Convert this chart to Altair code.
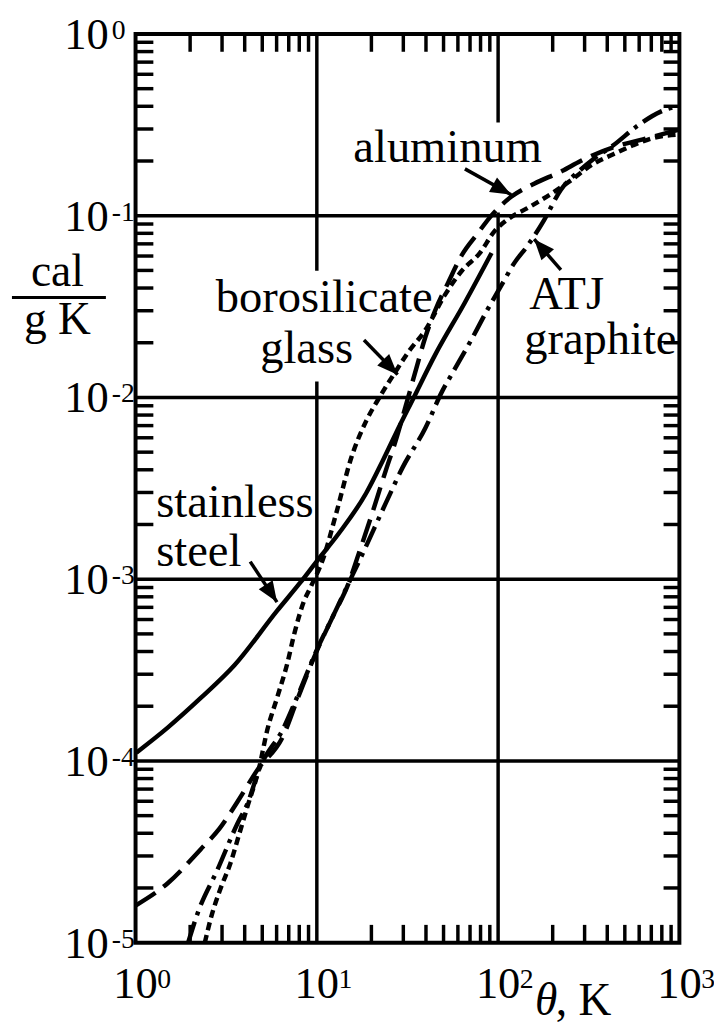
import altair as alt
import pandas as pd

# ---------------- data ----------------
ss_T = [1.01, 1.51, 2.29, 3.51, 6.03, 8.05, 9.96, 13.3, 18.7, 23.1, 27.2, 34.1, 45.0, 65.6, 92.0]
ss_c = [1.11e-4, 1.53e-4, 2.22e-4, 3.36e-4, 6.69e-4, 9.5e-4, 1.25e-3, 1.80e-3, 2.97e-3, 4.49e-3,
        6.3e-3, 9.9e-3, 0.0172, 0.0333, 0.0623]

al_T = [1.0, 1.51, 2.29, 2.91, 3.65, 4.69, 6.58, 7.75, 9.96, 12.3, 14.9, 17.1, 19.9, 24.0, 27.2,
        30.9, 35.0, 39.7, 45.0, 53.0, 63.1, 77.2, 92.0, 118, 158, 225, 285, 432, 629, 1000]
al_c = [1.60e-5, 2.13e-5, 3.27e-5, 4.25e-5, 5.96e-5, 8.9e-5, 1.40e-4, 2.14e-4, 4.0e-4, 6.28e-4,
        9.4e-4, 1.40e-3, 2.2e-3, 3.96e-3, 5.77e-3, 8.95e-3, 0.0139, 0.0215, 0.0302, 0.0428,
        0.0608, 0.080, 0.1004, 0.127, 0.150, 0.176, 0.200, 0.238, 0.263, 0.298]

bg_T = [2.41, 2.60, 2.94, 3.34, 3.74, 4.14, 4.81, 5.32, 6.03, 6.83, 7.56, 8.46, 9.24, 10.9, 12.8,
        15.5, 18.7, 22.0, 27.2, 32.0, 39.7, 51.0, 63.1, 79.2, 95.6, 115, 145, 196, 251, 336,
        432, 555, 713, 1000]
bg_c = [1.0e-5, 1.36e-5, 1.98e-5, 2.74e-5, 3.99e-5, 5.6e-5, 9.2e-5, 1.47e-4, 2.22e-4, 3.36e-4,
        5.14e-4, 7.49e-4, 9.04e-4, 1.32e-3, 2.31e-3, 4.67e-3, 7.41e-3, 9.9e-3, 0.0139, 0.0178,
        0.0235, 0.0368, 0.0498, 0.0623, 0.0822, 0.0967, 0.110, 0.132, 0.156, 0.193, 0.218,
        0.244, 0.267, 0.280]

atj_T = [1.95, 2.21, 2.84, 3.65, 4.14, 4.81, 6.58, 7.75, 9.96, 12.3, 14.9, 18.0, 24.0, 29.7,
         39.7, 49.1, 57.8, 71.6, 87.5, 104, 123, 145, 179, 222, 285, 336, 432, 591, 789, 1000]
atj_c = [1.0e-5, 1.47e-5, 2.54e-5, 4.53e-5, 5.81e-5, 9.0e-5, 1.53e-4, 2.22e-4, 4.05e-4, 6.28e-4,
         9.4e-4, 1.40e-3, 2.62e-3, 4.11e-3, 6.79e-3, 0.0108, 0.0144, 0.0210, 0.0305, 0.0412,
         0.0550, 0.0681, 0.0943, 0.139, 0.179, 0.205, 0.244, 0.314, 0.374, 0.403]

# axes
x_decades = [1, 10, 100, 1000]
x_exps = ["0", "1", "2", "3"]
y_decades = [1, 0.1, 0.01, 0.001, 0.0001, 0.00001]
y_exps = ["0", "-1", "-2", "-3", "-4", "-5"]
x_grid = [10, 100]
y_grid = [0.1, 0.01, 0.001, 0.0001]
mantissas = [2, 3, 4, 5, 6, 7, 8, 9]
x_minor = [m * d for d in [1, 10, 100] for m in mantissas]
y_minor = [m * d for d in [1e-5, 1e-4, 1e-3, 1e-2, 1e-1] for m in mantissas]

# annotations
lab_text = ["aluminum", "borosilicate", "glass", "ATJ", "graphite", "stainless", "steel"]
lab_x = [15.9, 2.77, 4.87, 148.4, 139.3, 1.30, 1.30]
lab_y = [0.197, 0.0294, 0.0155, 0.0305, 0.0174, 2.2e-3, 1.175e-3]

box_x1 = [2.66, 14.5]
box_x2 = [42.3, 168]
box_y1 = [0.0498, 0.326]
box_y2 = [0.01224, 0.104]

arr_id = ["al", "al", "bg", "bg", "atj", "atj", "ss", "ss"]
arr_x = [65.6, 118, 18.2, 27.9, 222, 158, 4.29, 6.03]
arr_y = [0.181, 0.1305, 0.0207, 0.01335, 0.0504, 0.0743, 1.25e-3, 7.48e-4]
head_x = [118, 27.9, 158, 6.03]
head_y = [0.1305, 0.01335, 0.0743, 7.48e-4]
head_ang = [29, 46, 229, 57]

# ---------------- chart ----------------
W, H = 550, 919
FONT = "Liberation Serif, Times New Roman, Times, DejaVu Serif, serif"
LW = 3.5
xs = alt.Scale(type="log", domain=[1, 1000])
ys = alt.Scale(type="log", domain=[1e-5, 1])


def X(f="x"):
    return alt.X(f"{f}:Q", scale=xs, axis=None)


def Y(f="y"):
    return alt.Y(f"{f}:Q", scale=ys, axis=None)


vgrid = alt.Chart(pd.DataFrame({"x": x_grid})).mark_rule(color="black", strokeWidth=LW).encode(x=X())
hgrid = alt.Chart(pd.DataFrame({"y": y_grid})).mark_rule(color="black", strokeWidth=LW).encode(y=Y())

xm = pd.DataFrame({"x": x_minor})
ym = pd.DataFrame({"y": y_minor})
tick_b = alt.Chart(xm).mark_rule(color="black", strokeWidth=LW).encode(x=X(), y=alt.value(H - 18), y2=alt.value(H))
tick_t = alt.Chart(xm).mark_rule(color="black", strokeWidth=LW).encode(x=X(), y=alt.value(0), y2=alt.value(18))
tick_l = alt.Chart(ym).mark_rule(color="black", strokeWidth=LW).encode(y=Y(), x=alt.value(0), x2=alt.value(18))
tick_r = alt.Chart(ym).mark_rule(color="black", strokeWidth=LW).encode(y=Y(), x=alt.value(W - 16), x2=alt.value(W))

boxes = alt.Chart(pd.DataFrame({"x1": box_x1, "x2": box_x2, "y1": box_y1, "y2": box_y2})).mark_rect(
    color="white").encode(x=X("x1"), x2="x2:Q", y=Y("y1"), y2="y2:Q")


def curve(T, c, dash):
    df = pd.DataFrame({"x": T, "y": c, "o": list(range(len(T)))})
    kw = dict(color="black", strokeWidth=4.5, interpolate="monotone")
    if dash:
        kw["strokeDash"] = dash
    return alt.Chart(df).mark_line(**kw).encode(x=X(), y=Y(), order="o:Q")


c_ss = curve(ss_T, ss_c, None)
c_al = curve(al_T, al_c, [24, 10])
c_bg = curve(bg_T, bg_c, [8, 5])
c_atj = curve(atj_T, atj_c, [22, 7, 4, 7])

arr_df = pd.DataFrame({"id": arr_id, "x": arr_x, "y": arr_y, "o": [0, 1] * 4})
arrows = alt.Chart(arr_df).mark_line(color="black", strokeWidth=3.5).encode(
    x=X(), y=Y(), detail="id:N", order="o:Q")
heads = alt.Chart(pd.DataFrame({"x": head_x, "y": head_y, "a": head_ang})).mark_point(
    shape="M0,0 L-2,-0.8 L-2,0.8 Z", filled=True, size=440, color="black", opacity=1,
    strokeWidth=0).encode(x=X(), y=Y(), angle=alt.Angle("a:Q", scale=None))

labels = alt.Chart(pd.DataFrame({"x": lab_x, "y": lab_y, "t": lab_text})).mark_text(
    font=FONT, fontSize=47, align="left", baseline="alphabetic", color="black").encode(
    x=X(), y=Y(), text="t:N")

# tick labels
yl = pd.DataFrame({"y": y_decades, "t": ["10"] * 6, "e": y_exps})
ylab10 = alt.Chart(yl).mark_text(font=FONT, fontSize=45, align="right", baseline="alphabetic", dy=15).encode(
    y=Y(), x=alt.value(-27), text="t:N")
ylabe = alt.Chart(yl).mark_text(font=FONT, fontSize=28, align="left", baseline="alphabetic", dy=5).encode(
    y=Y(), x=alt.value(-24), text="e:N")
xl = pd.DataFrame({"x": x_decades, "t": ["10"] * 4, "e": x_exps})
xlab10 = alt.Chart(xl).mark_text(font=FONT, fontSize=45, align="center", baseline="alphabetic").encode(
    x=X(), y=alt.value(H + 56), text="t:N")
xlabe = alt.Chart(xl).mark_text(font=FONT, fontSize=28, align="left", baseline="alphabetic", dx=22).encode(
    x=X(), y=alt.value(H + 45.5), text="e:N")

# axis titles
ytitle = alt.Chart(pd.DataFrame({"t": ["cal", "g K"], "py": [254.5, 303.5]})).mark_text(
    font=FONT, fontSize=46, align="center", baseline="alphabetic").encode(
    x=alt.value(-79), y=alt.Y("py:Q", scale=None, axis=None), text="t:N")
frac = alt.Chart(pd.DataFrame({"t": ["bar"]})).mark_rule(color="black", strokeWidth=3).encode(
    x=alt.value(-125), x2=alt.value(-30), y=alt.value(266.5))
xt_theta = alt.Chart(pd.DataFrame({"t": ["θ"]})).mark_text(
    font=FONT, fontSize=46, fontStyle="italic", align="left", baseline="alphabetic").encode(
    x=alt.value(404), y=alt.value(H + 73), text="t:N")
xt_k = alt.Chart(pd.DataFrame({"t": [", K"]})).mark_text(
    font=FONT, fontSize=46, align="left", baseline="alphabetic").encode(
    x=alt.value(425), y=alt.value(H + 73), text="t:N")

chart = alt.layer(
    vgrid, hgrid, tick_b, tick_t, tick_l, tick_r, boxes,
    c_ss, c_al, c_bg, c_atj, arrows, heads, labels,
    ylab10, ylabe, xlab10, xlabe, ytitle, frac, xt_theta, xt_k,
).properties(
    width=W, height=H,
    padding={"left": 129, "top": 20.5, "right": 35, "bottom": 78},
    autosize=alt.AutoSizeParams(type="none"),
).configure_view(stroke="black", strokeWidth=4)

chart.save("out.html", embed_options={"renderer": "svg", "actions": False})
